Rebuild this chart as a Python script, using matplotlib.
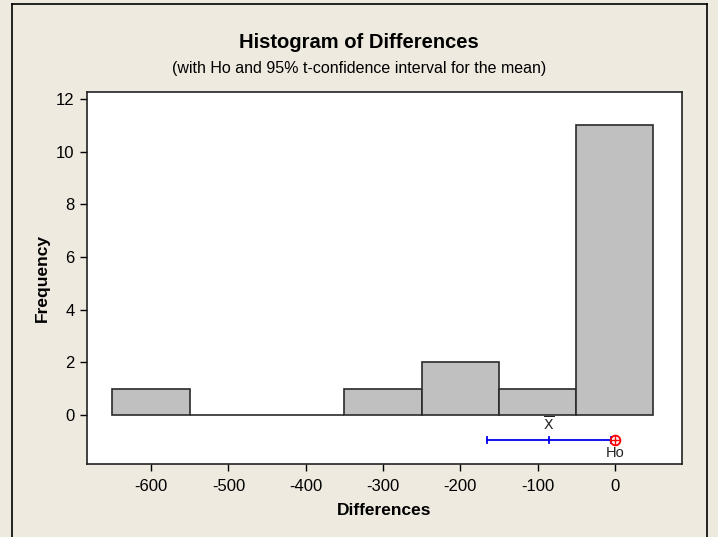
import matplotlib
matplotlib.use("Agg")
import matplotlib.pyplot as plt
import numpy as np

bin_centers = [-600, -500, -400, -300, -200, -100, 0]
counts = [1, 0, 0, 1, 2, 1, 11]
bin_width = 100
ci_lower = -166
ci_mean = -85
ci_upper = -5
h0 = 0
ci_y = -0.94
xticks = [-600, -500, -400, -300, -200, -100, 0]
yticks = [0, 2, 4, 6, 8, 10, 12]

plt.rcParams['font.family'] = ['Liberation Sans Narrow', 'Liberation Sans', 'DejaVu Sans']
plt.rcParams['axes.unicode_minus'] = False

W, H = 718, 537
fig = plt.figure(figsize=(W/100, H/100), dpi=100)
bg = '#EEEAE0'
fig.patch.set_facecolor(bg)

# frame lines around the figure
fig.add_artist(plt.Line2D([12/W, 12/W], [0, 1-4/H], color='black', lw=1.2, transform=fig.transFigure))
fig.add_artist(plt.Line2D([12/W, 707/W], [1-4/H, 1-4/H], color='black', lw=1.2, transform=fig.transFigure))
fig.add_artist(plt.Line2D([707/W, 707/W], [0, 1-4/H], color='black', lw=1.2, transform=fig.transFigure))

left, right, top, bottom = 87, 682, 92, 464
ax = fig.add_axes([left/W, 1-bottom/H, (right-left)/W, (bottom-top)/H])
ax.set_facecolor('white')

ax.bar(bin_centers, counts, width=bin_width, color='#C0C0C0', edgecolor='#2a2a2a', linewidth=1.2, zorder=2)

# confidence interval
ax.plot([ci_lower, ci_upper], [ci_y, ci_y], color='#0000EE', lw=1.3, zorder=3)
for xv in [ci_lower, ci_mean, ci_upper]:
    ax.plot([xv, xv], [ci_y-0.12, ci_y+0.12], color='#0000EE', lw=1.3, zorder=3)
ax.plot([h0], [ci_y], marker='o', markersize=7, markerfacecolor='none', markeredgecolor='red', mew=1.3, zorder=4)
ax.plot([h0], [ci_y], marker='+', markersize=7, color='red', mew=1.0, zorder=4)
ax.text(ci_mean, ci_y+0.22, r'$\overline{\mathrm{X}}$', ha='center', va='bottom', fontsize=10, color='#222222',
        family='DejaVu Sans')
ax.text(h0, ci_y-0.22, 'Ho', ha='center', va='top', fontsize=10.5, color='#222222')

ax.set_xlim(-683, 87)
ax.set_ylim(-1.86, 12.27)
ax.set_xticks(xticks)
ax.set_yticks(yticks)
ax.tick_params(direction='out', length=5, width=1, labelsize=12, colors='black', pad=4)
ax.tick_params(axis='x', pad=6)
for s in ax.spines.values():
    s.set_linewidth(1.2)
    s.set_color('#222222')

ax.set_xlabel('Differences', fontsize=12.5, fontweight='bold', labelpad=6)
ax.set_ylabel('Frequency', fontsize=12.5, fontweight='bold', labelpad=4)

fig.text(0.5, 1-43/H, 'Histogram of Differences', ha='center', va='center', fontsize=14.5, fontweight='bold')
fig.text(0.5, 1-68/H, '(with Ho and 95% t-confidence interval for the mean)', ha='center', va='center', fontsize=11.5)

fig.savefig('out.png', dpi=100, facecolor=bg)
